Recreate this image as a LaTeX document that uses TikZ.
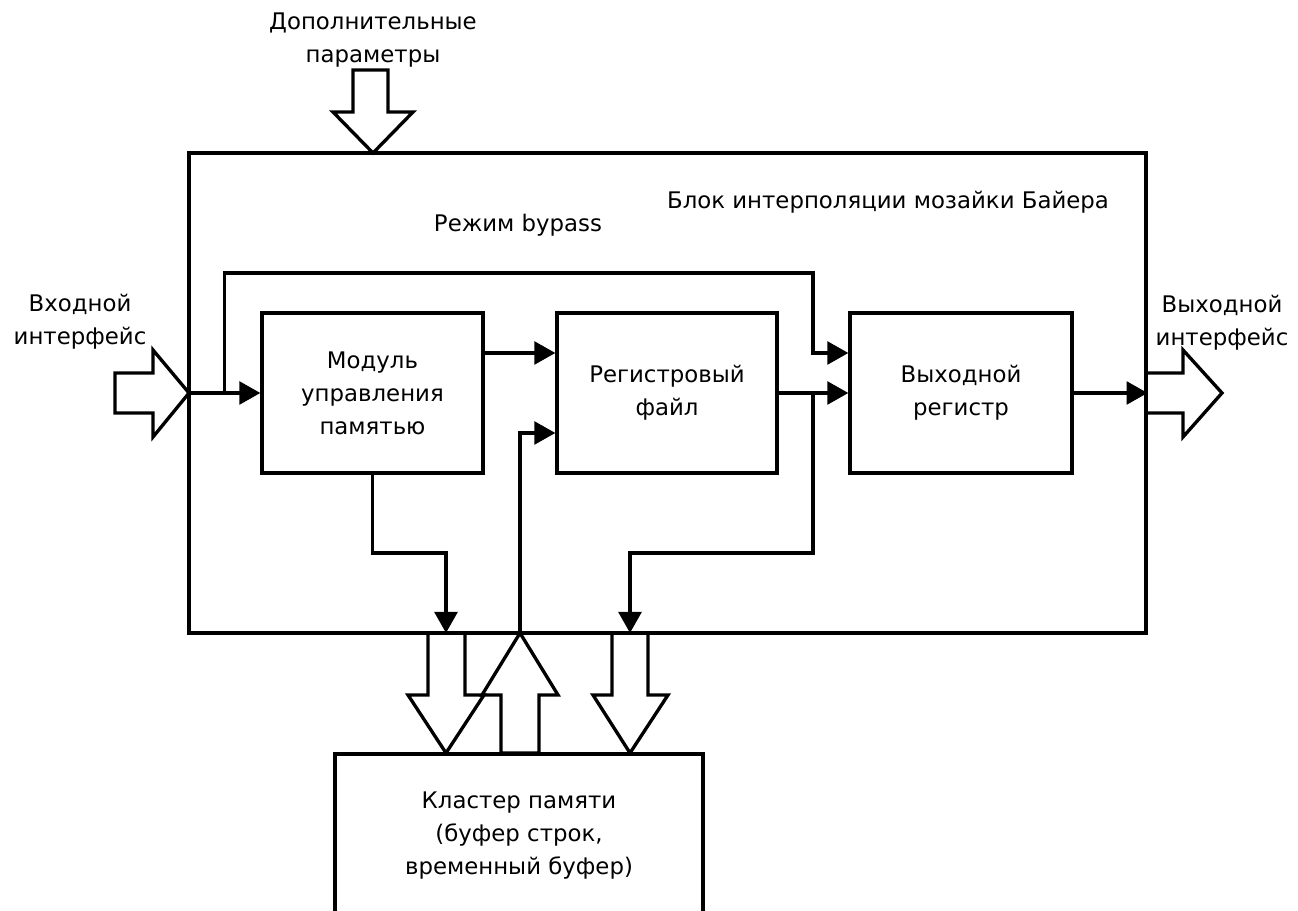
\documentclass[tikz,border=0pt]{standalone}
\usepackage{fontspec}
\setmainfont{DejaVu Sans}
\usetikzlibrary{arrows.meta,calc}
\tikzset{
  blk/.style={draw,line width=1.9pt,inner sep=0pt,align=center},
  flow/.style={line width=1.9pt,-{Triangle[length=12pt,width=13pt]}},
  hollow/.style={line width=1.9pt},
  lbl/.style={align=center,inner sep=0pt}
}
\begin{document}
\begin{tikzpicture}[x=0.02cm,y=-0.02cm,font=\fontsize{13}{18.8}\selectfont]
\clip (0,0) rectangle (1298,911);
\node[blk,minimum width=19.14cm,minimum height=9.6cm] (bayer) at (667.5,393) {};
\node[blk,minimum width=4.42cm,minimum height=3.2cm] (mmu) at (372.5,393) {Модуль\\управления\\памятью};
\node[blk,minimum width=4.4cm,minimum height=3.2cm] (regfile) at (667,393) {Регистровый\\файл};
\node[blk,minimum width=4.44cm,minimum height=3.2cm] (outreg) at (961,393) {Выходной\\регистр};
\node[blk,minimum width=7.36cm,minimum height=3.28cm] (memcl) at (519,836) {Кластер памяти\\(буфер строк,\\временный буфер)};
\node[lbl] (bayername) at (888,202) {Блок интерполяции мозайки Байера};
\node[lbl] (bypassname) at (518,225) {Режим bypass};
\node[lbl] (extraname) at (373,40) {Дополнительные\\параметры};
\node[lbl] (inname) at (80,322) {Входной\\интерфейс};
\node[lbl] (outname) at (1222,323) {Выходной\\интерфейс};
\coordinate (byp) at ($(bayer.west)+(37,0)$);
\coordinate (bypR) at (813,273);
\coordinate (dnA) at (446,633);
\coordinate (upA) at (520,633);
\coordinate (dnB) at (630,633);
\draw[flow] (bayer.west) -- (mmu.west);
\draw[flow] (byp) |- (bypR) |- ($(outreg.west)+(0,-40)$);
\draw[flow] ($(mmu.east)+(0,-40)$) -- ($(regfile.west)+(0,-40)$);
\draw[flow] (regfile.east) -- (outreg.west);
\draw[flow] (outreg.east) -- (bayer.east);
\draw[flow] (bypR |- regfile.east) |- ($(dnB)+(0,-80)$) -- (dnB);
\draw[flow] (mmu.south) |- ($(dnA)+(0,-80)$) -- (dnA);
\draw[flow] (upA) |- ($(regfile.west)+(0,40)$);
\draw[hollow] (353,70) -- (353,112) -- (333,112) -- (373,153) -- (413,112) -- (388,112) -- (388,70) -- cycle;
\draw[hollow] (115,373) -- (153,373) -- (153,350) -- (189,393) -- (153,437) -- (153,413) -- (115,413) -- cycle;
\draw[hollow] (1146,373) -- (1183,373) -- (1183,350) -- (1222,393) -- (1183,437) -- (1183,413) -- (1146,413);
\draw[hollow] (428,633) -- (428,695) -- (408,695) -- (446,753) -- (484,695) -- (465,695) -- (465,633);
\draw[hollow] (482,695) -- (520,633) -- (558,695) -- (539,695) -- (539,753) -- (501,753) -- (501,695) -- cycle;
\draw[hollow] (612,633) -- (612,695) -- (593,695) -- (630,753) -- (668,695) -- (648,695) -- (648,633);
\end{tikzpicture}
\end{document}
